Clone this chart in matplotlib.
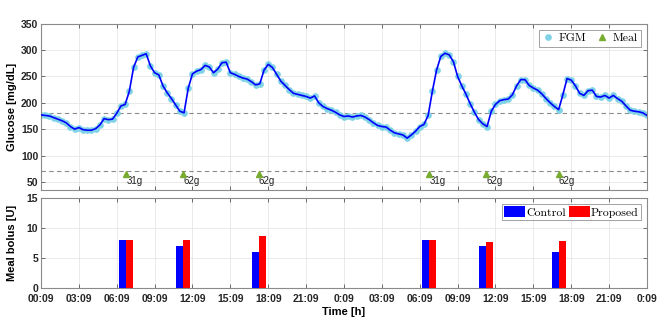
import numpy as np
import matplotlib
matplotlib.use("Agg")
import matplotlib.pyplot as plt
from matplotlib.lines import Line2D

# ---------------- data ----------------
sample_step_h = 1.0 / 3.0  # 20-minute FGM samples
glucose = [
    177, 176, 175, 172, 169, 166, 162, 155, 150, 153, 149, 148,
    148, 151, 158, 170, 168, 169, 180, 194, 197, 222, 267, 287,
    290, 293, 270, 257, 253, 232, 219, 208, 196, 184, 181, 228,
    255, 260, 263, 271, 268, 257, 264, 276, 277, 257, 254, 250,
    247, 245, 240, 234, 236, 262, 273, 267, 254, 241, 233, 225,
    218, 216, 214, 212, 209, 213, 200, 193, 189, 186, 182, 177,
    174, 175, 173, 175, 176, 173, 168, 162, 157, 155, 154, 148,
    143, 141, 139, 133, 139, 146, 155, 159, 176, 222, 262, 288,
    294, 291, 278, 250, 232, 216, 198, 182, 168, 160, 155, 184,
    197, 204, 206, 207, 215, 232, 244, 244, 233, 228, 224, 217,
    208, 200, 193, 187, 215, 246, 243, 232, 218, 214, 223, 224,
    212, 211, 214, 209, 214, 208, 203, 194, 186, 184, 183, 181,
    176,
]
meal_times = [6.75, 11.25, 17.25, 30.75, 35.25, 41.0]
meal_carbs = [31, 62, 62, 31, 62, 62]
bolus_control = [8, 7, 6, 8, 7, 6]
bolus_proposed = [8, 8, 8.6, 8, 7.6, 7.75]
xtick_labels = ['00:09', '03:09', '06:09', '09:09', '12:09', '15:09', '18:09', '21:09',
                '0:09', '03:09', '06:09', '09:09', '12:09', '15:09', '18:09', '21:09', '0:09']
hyper_threshold = 180
hypo_threshold = 70
meal_marker_level = 65

t = np.arange(len(glucose)) * sample_step_h
xticks = np.arange(0, 48.01, 3)

# ---------------- style ----------------
plt.rcParams['font.family'] = ['Liberation Sans', 'DejaVu Sans']
tick_fs = 7.5
axis_gray = '#8a8a8a'
grid_col = '#e6e6e6'

fig = plt.figure(figsize=(6.64, 3.24), dpi=100)
ax1 = fig.add_axes([0.0617, 0.4127, 0.9127, 0.514])
ax2 = fig.add_axes([0.0617, 0.1102, 0.9127, 0.2796])


def style(ax, xpad=2):
    for s in ax.spines.values():
        s.set_color(axis_gray)
        s.set_linewidth(0.8)
    ax.tick_params(direction='in', top=True, right=True, length=3, width=0.6,
                   color='#555555', labelsize=tick_fs, pad=2)
    ax.tick_params(axis='x', pad=xpad)
    for lab in ax.get_xticklabels() + ax.get_yticklabels():
        lab.set_fontweight('bold')
        lab.set_color('#262626')
    ax.grid(True, color=grid_col, linewidth=0.6)
    ax.set_axisbelow(True)


# ---------------- top: glucose ----------------
ax1.axhline(hyper_threshold, color='#8c8c8c', linestyle=(0, (4, 3)), linewidth=0.8, zorder=1)
ax1.axhline(hypo_threshold, color='#8c8c8c', linestyle=(0, (4, 3)), linewidth=0.8, zorder=1)
ax1.plot(t, glucose, linestyle='none', marker='o', markersize=3.8,
         markerfacecolor='#7fd3e6', markeredgecolor='#7fd3e6', zorder=2)
ax1.plot(t, glucose, color='#0000ff', linewidth=1.2, zorder=3)
ax1.plot(meal_times, [meal_marker_level] * len(meal_times), linestyle='none', marker='^',
         markersize=4.5, color='#77ac30', zorder=4)
for mt, c in zip(meal_times, meal_carbs):
    ax1.text(mt, meal_marker_level - 3, f'{c}g', ha='left', va='top', fontsize=7,
             color='#222222')
ax1.set_xlim(0, 48)
ax1.set_ylim(34, 350)
ax1.set_xticks(xticks)
ax1.set_xticklabels([])
ax1.set_yticks([50, 100, 150, 200, 250, 300, 350])
ax1.set_ylabel('Glucose [mg/dL]', fontsize=8, fontweight='bold', labelpad=3)
style(ax1)

leg_handles = [
    Line2D([], [], linestyle='none', marker='o', markersize=3.8,
           markerfacecolor='#7fd3e6', markeredgecolor='#7fd3e6', label='FGM'),
    Line2D([], [], linestyle='none', marker='^', markersize=4.5, color='#77ac30', label='Meal'),
]
leg1 = ax1.legend(handles=leg_handles, loc='upper right', ncol=2,
                  prop={'family': 'cmr10', 'size': 8.5}, frameon=True, fancybox=False,
                  edgecolor='#8a8a8a', handlelength=1.0, handletextpad=0.4,
                  columnspacing=0.8, borderpad=0.3, borderaxespad=0.5)
leg1.get_frame().set_linewidth(0.7)

# ---------------- bottom: bolus ----------------
bar_w = 0.56
mt_arr = np.array(meal_times)
ax2.bar(mt_arr - bar_w / 2, bolus_control, width=bar_w, color='#0000ff', label='Control', zorder=3)
ax2.bar(mt_arr + bar_w / 2, bolus_proposed, width=bar_w, color='#ff0000', label='Proposed', zorder=3)
ax2.set_xlim(0, 48)
ax2.set_ylim(0, 15)
ax2.set_yticks([0, 5, 10, 15])
ax2.set_xticks(xticks)
ax2.set_xticklabels(xtick_labels)
ax2.set_ylabel('Meal bolus [U]', fontsize=8, fontweight='bold', labelpad=7)
ax2.set_xlabel('Time [h]', fontsize=8, fontweight='bold', labelpad=2)
style(ax2, xpad=4)
leg2 = ax2.legend(loc='upper right', ncol=2, prop={'family': 'cmr10', 'size': 8.5},
                  frameon=True, fancybox=False, edgecolor='#8a8a8a', handlelength=1.8,
                  handleheight=1.1, handletextpad=0.1, columnspacing=0.2,
                  borderpad=0.2, borderaxespad=0.5)
leg2.get_frame().set_linewidth(0.7)

fig.savefig('out.png', dpi=100)
